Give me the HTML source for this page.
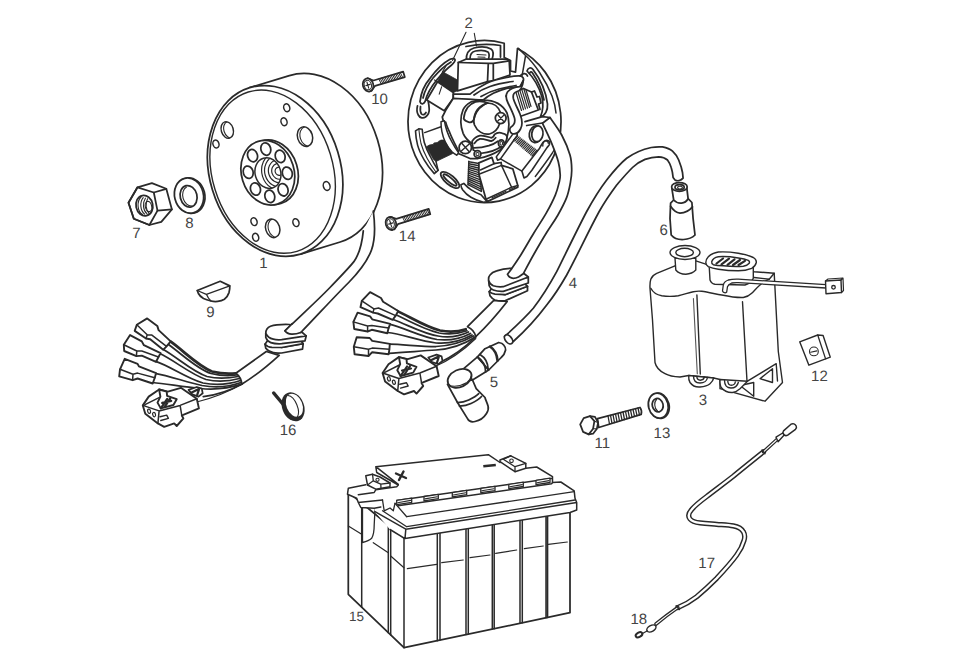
<!DOCTYPE html>
<html lang="en"><head><meta charset="utf-8"><title>Electrical parts diagram</title>
<style>
html,body{margin:0;padding:0;background:#fff;}
body{width:979px;height:669px;overflow:hidden;}
svg{display:block}
.l{fill:none;stroke:#2a2a2a;stroke-width:1.75;stroke-linecap:round;stroke-linejoin:round}
.w{fill:#fff;stroke:#2a2a2a;stroke-width:1.75;stroke-linecap:round;stroke-linejoin:round}
.t{fill:none;stroke:#2a2a2a;stroke-width:1.1;stroke-linecap:round;stroke-linejoin:round}
.c{stroke-width:1.4}
.k{fill:#2a2a2a;stroke:#2a2a2a;stroke-width:0.8;stroke-linejoin:round}
text{font-family:"Liberation Sans",sans-serif;font-size:15px;fill:#444;text-anchor:middle;text-rendering:geometricPrecision}
</style></head><body>
<svg width="979" height="669" viewBox="0 0 979 669">
<rect width="979" height="669" fill="#fff"/>
<!-- 10_flywheel.svg -->
<g transform="translate(275.1,170.9) rotate(-17)">
<defs><clipPath id="fh0"><ellipse cx="-33.8" cy="-53.1" rx="6.0" ry="8.5"/></clipPath><clipPath id="fh4"><ellipse cx="38.6" cy="-24.0" rx="7.5" ry="10.0"/></clipPath><clipPath id="fh8"><ellipse cx="-19.1" cy="54.2" rx="7.0" ry="9.5"/></clipPath><clipPath id="fbore"><ellipse cx="-7.5" cy="-0.0" rx="12.8" ry="15.5"/></clipPath></defs>
<path class="w" d="M0,-87 L41.5,-87 A65.5,87 0 0 1 41.5,87 L0,87 Z"/>
<ellipse class="w" cx="0" cy="0" rx="65.5" ry="87"/>
<ellipse class="l" cx="-2.6" cy="0" rx="60.3" ry="83.3" style="stroke-width:1.4"/>
<ellipse class="t" cx="-31.2" cy="-52.6" rx="6.0" ry="8.5" clip-path="url(#fh0)"/>
<ellipse class="l" style="stroke-width:1.5" cx="-33.8" cy="-53.1" rx="6.0" ry="8.5"/>
<ellipse class="l" style="stroke-width:1.5" cx="-48.7" cy="-43.0" rx="3.0" ry="4.0"/>
<ellipse class="l" style="stroke-width:1.5" cx="29.6" cy="-57.0" rx="3.0" ry="4.0"/>
<ellipse class="l" style="stroke-width:1.5" cx="22.9" cy="-44.4" rx="3.0" ry="4.0"/>
<ellipse class="t" cx="41.2" cy="-23.5" rx="7.5" ry="10.0" clip-path="url(#fh4)"/>
<ellipse class="l" style="stroke-width:1.5" cx="38.6" cy="-24.0" rx="7.5" ry="10.0"/>
<ellipse class="l" style="stroke-width:1.5" cx="44.9" cy="29.5" rx="3.3" ry="4.5"/>
<ellipse class="l" style="stroke-width:1.5" cx="-35.0" cy="42.4" rx="3.0" ry="4.0"/>
<ellipse class="l" style="stroke-width:1.5" cx="-38.0" cy="57.8" rx="3.0" ry="4.0"/>
<ellipse class="t" cx="-16.5" cy="54.7" rx="7.0" ry="9.5" clip-path="url(#fh8)"/>
<ellipse class="l" style="stroke-width:1.5" cx="-19.1" cy="54.2" rx="7.0" ry="9.5"/>
<ellipse class="l" style="stroke-width:1.5" cx="4.8" cy="55.6" rx="3.0" ry="4.0"/>
<ellipse class="w" cx="-3.9" cy="0.1" rx="26.3" ry="32.8"/>
<ellipse class="w" cx="-7.5" cy="-0.4" rx="26.3" ry="32.8"/>
<ellipse class="l" cx="11.0" cy="5.8" rx="4.9" ry="6.3"/>
<ellipse class="l" cx="2.1" cy="20.4" rx="4.9" ry="6.3"/>
<ellipse class="l" cx="-12.5" cy="22.8" rx="4.9" ry="6.3"/>
<ellipse class="l" cx="-24.1" cy="11.6" rx="4.9" ry="6.3"/>
<ellipse class="l" cx="-26.1" cy="-6.6" rx="4.9" ry="6.3"/>
<ellipse class="l" cx="-17.1" cy="-21.2" rx="4.9" ry="6.3"/>
<ellipse class="l" cx="-2.5" cy="-23.6" rx="4.9" ry="6.3"/>
<ellipse class="l" cx="9.1" cy="-12.4" rx="4.9" ry="6.3"/>
<g clip-path="url(#fbore)">
<ellipse class="t" style="stroke-width:1.2" cx="3.5" cy="1.5" rx="17.1" ry="19.2"/>
<ellipse class="t" style="stroke-width:1.2" cx="3.5" cy="1.5" rx="14.2" ry="15.9"/>
<ellipse class="t" style="stroke-width:1.2" cx="3.5" cy="1.5" rx="10.4" ry="11.6"/>
<ellipse class="t" style="stroke-width:1.2" cx="3.5" cy="1.5" rx="7.1" ry="8.0"/>
<ellipse class="t" style="stroke-width:1.2" cx="3.5" cy="1.5" rx="3.7" ry="4.1"/>
</g>
<ellipse class="l" style="stroke-width:1.5" cx="-7.5" cy="-0.0" rx="12.8" ry="15.5"/>
</g>
<!-- 20_screws.svg -->
<path class="w" d="M367.7,78.2 L373.5,80.5 L403.2,71.7 L404.8,77.1 L375.1,85.8 L371.4,90.9"/>
<path class="t" style="stroke-width:1" d="M378.8,78.9 L381.3,84.0 M380.3,78.5 L382.9,83.6 M381.9,78.0 L384.4,83.1 M383.4,77.6 L385.9,82.7 M384.9,77.1 L387.5,82.2 M386.5,76.7 L389.0,81.7 M388.0,76.2 L390.5,81.3 M389.5,75.8 L392.1,80.8 M391.1,75.3 L393.6,80.4 M392.6,74.8 L395.2,79.9 M394.1,74.4 L396.7,79.5 M395.7,73.9 L398.2,79.0 M397.2,73.5 L399.8,78.6 M398.7,73.0 L401.3,78.1 M400.3,72.6 L402.8,77.7 "/>
<ellipse class="w" cx="368.1" cy="85.0" rx="5.2" ry="6.6" transform="rotate(-16.5 368.1 85.0)"/>
<ellipse class="t" cx="367.8" cy="85.0" rx="3.6" ry="4.8" transform="rotate(-16.5 368.1 85.0)"/>
<path class="t" style="stroke-width:1.1" d="M366.9,82.0 L368.7,88.2 M365.9,85.6 L370.1,84.4"/>
<path class="w" d="M390.4,216.8 L396.3,218.9 L428.7,208.8 L430.3,214.2 L397.9,224.2 L394.3,229.4"/>
<path class="t" style="stroke-width:1" d="M402.4,217.0 L405.0,222.0 M403.9,216.5 L406.6,221.6 M405.5,216.0 L408.1,221.1 M407.0,215.6 L409.6,220.6 M408.5,215.1 L411.1,220.1 M410.1,214.6 L412.7,219.7 M411.6,214.1 L414.2,219.2 M413.1,213.7 L415.7,218.7 M414.6,213.2 L417.3,218.2 M416.2,212.7 L418.8,217.8 M417.7,212.2 L420.3,217.3 M419.2,211.8 L421.8,216.8 M420.8,211.3 L423.4,216.3 M422.3,210.8 L424.9,215.9 M423.8,210.3 L426.4,215.4 M425.3,209.9 L428.0,214.9 M426.9,209.4 L429.5,214.4 "/>
<ellipse class="w" cx="390.9" cy="223.5" rx="5.2" ry="6.6" transform="rotate(-17.3 390.9 223.5)"/>
<ellipse class="t" cx="390.6" cy="223.5" rx="3.6" ry="4.8" transform="rotate(-17.3 390.9 223.5)"/>
<path class="t" style="stroke-width:1.1" d="M389.7,220.5 L391.6,226.6 M388.7,224.1 L392.9,222.9"/>
<text x="379.6" y="104.0">10</text>
<text x="407.2" y="240.6">14</text>
<!-- 21_nut.svg -->
<path class="w" d="M128.5,202.8 L137.5,187.3 L151.9,183.1 L166.3,188.8 L171.9,209.4 L161.3,221.9 L149.4,225.0 L133.8,218.8 Z"/>
<path class="l" d="M128.5,202.8 L137.5,187.3 L153.8,192.5 L157.5,210.6 L149.4,225.0 L133.8,218.8 Z"/>
<path class="l" d="M153.8,192.5 L166.3,188.8 M157.5,210.6 L171.9,209.4"/>
<ellipse class="l" cx="144.4" cy="205.6" rx="8.4" ry="10.3" transform="rotate(-12 144.4 205.6)"/>
<path class="t" d="M141.0,197.0 A7.0,10.0 0 0 0 142.5,214.5"/>
<path class="t" d="M143.2,197.6 A7.0,10.0 0 0 0 144.7,214.1"/>
<path class="t" d="M145.4,198.2 A7.0,10.0 0 0 0 146.9,213.7"/>
<path class="t" d="M147.6,198.8 A7.0,10.0 0 0 0 149.1,213.3"/>
<ellipse class="t" cx="148.5" cy="206.5" rx="3.2" ry="5.2" transform="rotate(-12 148.5 206.5)"/>
<text x="136.3" y="237.5">7</text>
<ellipse class="w" cx="190.2" cy="195.6" rx="14.6" ry="17.8" transform="rotate(-14 190.2 195.6)"/>
<ellipse class="w" cx="189" cy="195.6" rx="14.4" ry="17.8" transform="rotate(-14 189 195.6)"/>
<ellipse class="l" cx="188.6" cy="196.3" rx="8.4" ry="10.9" transform="rotate(-14 188.6 196.3)"/>
<path class="t" d="M186.5,187 A7.5,10 -14 0 0 192,206"/>
<text x="189.4" y="227.5">8</text>
<!-- 30_harness1.svg -->
<!-- grommet -->
<path class="w" d="M265,344.2 L265.8,348.3 C268,351 270.5,352.2 273.3,352.7 C276,353.3 279,353.2 281.7,353 L302.5,349.2 L303.2,343.6 L281.7,347.5 Z"/>
<path class="w" d="M265,344.2 C267,346.5 269.5,347.3 272,347.4 L281.7,347.5 L303.2,343.6 L300,340 L268,340 Z"/>
<path class="w" d="M265.8,333.3 L265.8,337.5 C267,340.5 268.5,341.8 270.8,342.6 C274,343.7 278,343.9 281.7,343.7 L305,340.8 L306.2,335.8 Z"/>
<path class="w" d="M265.8,333.3 C265.8,329.5 267.5,327.5 270.5,326.3 C275,324.7 282,324.3 289.2,324.5 C295,324.7 298.5,327.5 301.7,332 L306.2,335.8 L281.7,339.7 C278,340 275.5,339.8 273.3,339.2 C269.5,338.2 267,336 265.8,333.3 Z"/>
<!-- cable from flywheel to grommet -->
<path class="w" style="stroke:none" d="M373.3,211 C375.3,226 375,240 371.5,250 C367,262 358,273 348.7,282.5 C333,298 316,317 300.8,332.5 L291.7,334.2 L285,330.8 C298,318 316,302 330,287.5 C339,278 348,269 353.7,261.9 C358,256 362,244 363.3,230.8 Z"/>
<path class="l" d="M373.3,211 C375.3,226 375,240 371.5,250 C367,262 358,273 348.7,282.5 C333,298 316,317 300.8,332.5 M285,330.8 C298,318 316,302 330,287.5 C339,278 348,269 353.7,261.9 C358,256 362,244 363.3,230.8"/>
<path class="w" d="M291.7,324.2 L300.8,332.5 C298,333.6 294.5,334.3 291.7,334.2 C288.5,334 286,332.5 285,330.8 Z" style="stroke:none"/>
<path class="l" d="M292.2,323.7 L285,330.8 C286,332.5 288.5,334 291.7,334.2 C294.5,334.3 298,333.6 300.8,332.5"/>
<!-- sheath after grommet -->
<path class="w" d="M266.3,351.5 L235.8,373.3 C239.5,376 241.5,380 241.7,384.2 C256,375.5 268,365.5 279.2,355.3 Z"/>
<!-- wires -->
<g class="l">
<path style="stroke-width:2.8" d="M170.8,341.7 C185,352 198,366 212,371.5 C222,374 230,374 235.8,373.3"/>
<path d="M168.5,344.5 C183,355 197,369 211,373.5 C221,376 230,376 236.5,375"/>
<path d="M164.2,350 C178,358 193,372 207,376.5 C218,379 230,378 238,376.5"/>
<path d="M159.2,353.3 C174,360 190,374 206,379.5 C217,382 230,381 239.5,378.5"/>
<path d="M155.8,361.3 C170,366 186,378 203,383 C216,385.5 230,384 240.5,380.5"/>
<path d="M155,373.3 C170,376 186,382 202,385.5 C216,388 230,386.5 241,382.5"/>
<path d="M152.5,382.5 C167,384 184,387 200,388.5 C215,390 230,388 241.7,384.2"/>
<path d="M203.3,396.7 C216,395 230,390.5 241.7,384.2"/>
<path d="M198.5,401.5 C212,398 228,392 241.7,384.2" class="t"/>
</g>
<!-- spade connectors -->
<path class="w" style="stroke-width:1.9" d="M134.7,330.9 L136.8,324.7 L147.2,318.4 L157.3,325.9 L158.6,330.1 L170.7,341.4 L166.5,346.4 L163.2,349.8 L150.2,339.3 L146.0,338.5 Z"/>
<path class="l" style="stroke-width:1.5" d="M136.8,324.7 L147.2,334.7 L151.9,335.1 L166.5,346.4 M147.2,334.7 L146.0,338.5"/>
<path class="w" style="stroke-width:1.9" d="M124.2,351.0 L123.8,344.8 L130.1,335.1 L141.8,341.4 L143.9,345.2 L160.6,353.1 L158.5,357.0 L156.0,361.9 L141.8,355.6 L136.4,356.1 Z"/>
<path class="l" style="stroke-width:1.5" d="M123.8,344.8 L136.8,351.0 L141.8,351.0 L158.5,357.0 M136.8,351.0 L136.4,356.1"/>
<path class="w" style="stroke-width:1.9" d="M119.2,376.4 L120.0,369.3 L124.7,358.8 L137.6,363.8 L138.9,366.4 L156.1,373.1 L154.8,377.7 L152.7,383.5 L137.6,378.5 L132.6,380.2 Z"/>
<path class="l" style="stroke-width:1.5" d="M120.0,369.3 L133.0,374.3 L137.6,373.1 L154.8,377.7 M133.0,374.3 L132.6,380.2"/>
<!-- plug -->
<g transform="translate(-239.8,32.4)">
<g>
<path class="w" d="M428.3,357.5 L436.6,354.6 L441.6,356.3 L442.5,360.9 L438.3,364.2 L432,362 Z"/>
<path class="l" style="stroke-width:2.2" d="M431.5,360 L438.5,356.5 M437,362.5 L438.8,357"/>
<path class="w" style="stroke-width:1.9" d="M382.6,373 L388.5,364.2 L398.9,357.1 L407.7,359.2 L420.7,355.4 L436.6,366.3 L438.7,376 L423.6,382.2 L421.6,383.1 L423.2,386 L416.5,393.6 L414,391 L404,394.4 L397.7,391 L385.1,381.4 Z"/>
<path class="l" style="stroke-width:1.5" d="M382.6,373 L398.9,378.5 L397.7,391 M398.9,378.5 L419.9,373 L436.6,366.3 M419.9,373 L421.6,383.1 M384.8,372.3 L399.4,365"/>
<path class="w" style="stroke-width:1.9" d="M398.9,357.1 L406.5,359.2 L406.9,363.4 L416.5,366.8 L413.2,372.6 L400.6,376 L397.3,370.2 L400.2,364.2 Z"/>
<path class="l" style="stroke-width:2.2" d="M400.6,376 L407,366.5 M402,370.5 L411,368.5 M404.5,374.5 L410,366"/>
<path class="l" style="stroke-width:1.4" d="M399.8,384.3 L406.5,382.7 L408.2,386 L400.6,388.1"/>
<ellipse class="l" cx="388.9" cy="378.9" rx="1.4" ry="2.2" style="stroke-width:1.2" transform="rotate(-15 388.9 378.9)"/>
<ellipse class="l" cx="393.9" cy="382.2" rx="1.4" ry="2.2" style="stroke-width:1.2" transform="rotate(-15 393.9 382.2)"/>
</g>
</g>
<!-- key 9 -->
<path class="w" d="M197.2,290.5 L220.2,281.3 L229.8,285.9 C229.9,288.5 229.6,290.5 229,292.6 C228,295.5 226.5,297.8 224.4,299.3 C222.5,300.5 220,301.2 217.7,301.4 C215.5,301.6 213,301.5 211,301 C208,300.3 205.5,299.5 203.5,298.5 C201,297 199.3,295.3 198.4,293.5 Z"/>
<path class="l" style="stroke-width:1.3" d="M197.2,290.5 L206.4,294.3 L229.8,285.9 M206.4,294.3 C207.5,297 209,299.3 211,301"/>
<text x="210.3" y="316.9">9</text>
<text x="263.3" y="267.6">1</text>
<!-- 40_stator.svg -->
<g>
<!-- base plate -->
<path class="w" d="M504.2,43.23 A76.5,81 0 1 0 517.5,48.42 L515.5,72.2 L510.5,71 L510.5,60.5 L504.2,57.5 Z"/>
<path class="l" d="M466,46.5 Q484,43 500.5,45.5 L500.5,57"/>
<!-- right segment inner edge -->
<path class="l" style="stroke-width:1.5" d="M518.4,48.4 L525.6,55.5 L522.2,75.2 M525.6,55.5 C534.4,63.5 545.3,79.4 552,96 C554,101.5 555.5,107 556,113"/>
<!-- right slot -->
<path class="l" d="M527,71 C528,67.5 531,67 533,69.5 C541,80 546,92 547.5,104 C548,110 545,116 540.5,116.5 C543.5,110 543.5,104 542,97 C539,87 534,78 527,71 Z"/>
<path class="l" d="M529.5,73.5 C530,71.5 531.5,71.5 532.5,73 C538,81 542,90 544,100"/>
<!-- left long slot -->
<path class="l" d="M420,101.7 C421,92 425,84 430,78.3 C436,70 443,63 450,59.2 C453,58 455.5,58.5 455,60.5 C454.5,62.5 453,63.5 451.7,65 C445,70 441,75 436.7,80 C431,87 427,94 425,101.7 C424,104 421,105 420,101.7 Z"/>
<path class="l" d="M423,98 C425,89 429,83 433,78 C439,71 445,65.5 451,62"/>
<!-- small left loop slot -->
<path class="l" d="M417.5,105.8 C416.5,110 417,113 418.3,115 C420,118.5 423.5,118.5 425.5,117 C428,115 429.5,112 429.2,109 C429,106 428.7,103.5 428.3,101.7"/>
<path class="l" d="M420.5,106.5 C420,110 420.5,112.5 421.5,114 C423,115.5 425,114.5 426,112.5"/>
<!-- top oval slot -->
<path class="l" d="M466.5,60 C466,54 469,49.5 474,48 C480,46.5 487,46.8 491,49 C494,51 493.5,55 492,59.5"/>
<path class="l" d="M470,58.5 C470,54.5 472,51.8 475.5,51 C480,50 485,50.2 488,52 C489.5,53.5 489.3,56 488.7,58.5"/>
<path class="l" d="M477,54.5 L486,55 M478,57 L485,57.3" style="stroke-width:1.1"/>
<!-- top coil block -->
<path class="w" d="M458.3,62.5 L465.8,59.2 L506.7,59.2 L509.2,60.8 L510,75 L493.3,80.5 L487.5,81.7 L457.5,90.8 Z"/>
<path class="l" d="M458.3,62.5 L488.3,63.3 L493.3,63.3 L509.2,60.8 M488.3,63.3 L487.5,81.7 M493.3,63.3 L493.3,80.5"/>
<!-- dark block -->
<path class="k" d="M442.5,71.7 L457.5,80 L457.5,90.8 L453.3,92.5 L437.5,81.7 Z"/>
<path class="l" d="M442.5,71.7 L446,66 M437.5,81.7 L434.5,80" style="stroke-width:1.2"/>
<!-- left coil block -->
<path class="w" d="M437.5,81.7 L453.3,92.5 L453.3,98.3 L444.2,110.8 L426.7,100 Z"/>
<path class="t" d="M441.7,86.7 L439.2,94.2"/>
<!-- centre arm -->
<path class="w" d="M453.3,94.2 L470,94.2 C476,89 481,86 486.7,83.3 C493,80.5 500,78.8 506.7,77.5 C511,76.5 516,75.5 520,75.8 C523,76.5 524,78.5 523.3,80.5 C522.5,83.5 521.5,85.5 520,86.7 C515.5,87.5 511,87.8 506.7,88.3 C502,89.5 497.5,91.3 493.3,93.3 C489.5,95.3 486,97.5 483.3,100 L453.3,99.2 Z"/>
<path class="l" d="M474,95 C479,91 484,88.5 490,86.5 C497,84 505,82.5 513,81.5 M481,96.5 C487,93 493,90.5 499,89 C505,87.5 510,86.5 516,85.5"/>
<!-- hub -->
<path class="w" d="M445.7,110.3 L453.3,98.3 L483.3,100 C495,100 503,105 507,113 C510,121 509,130 506.9,137.8 C506,142 504.5,146 500,150 C494,154 486,157 478,158.5 L470,158.5 L462,155 L455.2,152.4 C452,146 449.5,139.5 447.4,133.3 C445.5,128 443.5,122.5 442.3,117 Z"/>
<path class="l" d="M445.7,122.1 C446.5,125.5 448,128.8 449.6,132.2 C452,138.5 455.5,145 458.6,151.3"/>
<!-- hub ring -->
<path class="l" d="M482.2,100.2 C478,100.2 474.5,100.8 471,101.9 C467,104 464.5,106.5 463.1,109.7 C461.5,113.5 460.7,117.5 460.8,122.1 C460.9,126 461.8,129.8 463.1,133.3 C465,137.5 468,140.8 472.1,143.4"/>
<!-- crescent -->
<path class="w" d="M463.7,118.7 C464,114.5 465.5,110.5 467.6,107.5 C469.8,104.8 472.3,103 475.4,101.9 C478.3,101.2 481.5,101.3 484.4,101.9 L487.8,103 C486,103.5 484.6,104.2 483.3,105.2 C480.3,107 478.2,109.3 476.6,112 C475.2,114.5 474.3,117 473.8,119.8 C472.5,122 470.5,122.8 468.7,122.1 C466.5,121.7 464.5,120.5 463.7,118.7 Z"/>
<!-- bore -->
<path class="l" d="M473.8,119.8 C474.5,112 479,105.5 487.8,103 C494,103.2 498.5,107 500.5,112.5 M499.5,124 C498,129 494.5,132.5 489.5,134 C483,135 477,131 474.5,125 C473.8,123 473.7,121.5 473.8,119.8"/>
<!-- lower clamp -->
<path class="w" d="M472.1,141.2 C474,138.5 477,136.3 479.9,135.6 C484,135 488,136.8 491.2,137.8 C493,137.5 494,136 494.6,134.4 C497,132.5 500,132.3 502.4,133.3 C505.5,134 507.3,135.8 506.9,137.8 C506.5,141 504.8,143.8 502.4,145.7 C497,150 489,152.5 480,153.5 L473.2,150 Z"/>
<path class="l" d="M474.3,143.4 C476,141 477.8,139.6 479.9,138.9 C484,138.7 487.5,140.5 491.2,141.2 C493,140.6 494.5,139.3 495.7,137.8 M473.2,147.9 C478.5,148 484,147.2 488.9,145.7 C492.5,144.5 495.5,143 497.9,141.2"/>
<!-- screws -->
<circle class="w" cx="500.7" cy="118.1" r="5.4"/>
<path class="l" style="stroke-width:1.3" d="M498,115 L503.5,121.2 M503.8,115.3 L497.8,121"/>
<circle class="w" cx="465.3" cy="147.4" r="6.2"/>
<path class="l" style="stroke-width:1.4" d="M462,143.5 L468.8,151.2 M469.2,144 L461.6,150.8"/>
<circle class="w" cx="477.5" cy="154.1" r="3.4"/><circle class="t" cx="477.5" cy="154.1" r="1.6"/>
<ellipse class="w" cx="501.3" cy="143.4" rx="2.9" ry="3.6"/><ellipse class="t" cx="501.3" cy="143.4" rx="1.3" ry="1.9"/>
<!-- lower-left coil -->
<path class="w" style="stroke-width:1.6" d="M415.5,130.9 L418.8,128.8 L422.2,129.2 C422.6,134 423.3,138.5 424.3,142.6 C425.8,147.5 427.8,152 430.1,156 C432.5,161 435.2,165.8 438.1,170.3 L434.3,173.6 C430.5,169.5 427,165 424.3,160.2 C421.5,155.3 419,150.3 417.6,145.1 C416.4,140.5 415.7,135.8 415.5,130.9 Z"/>
<path class="l" style="stroke-width:1.1" d="M418.8,128.8 C419.3,134 420,139 421,143.5 C422.5,149 424.8,154 427.2,158.5 C429.8,163.3 432.8,167.8 435.9,172"/>
<path class="l" style="stroke-width:1.5" d="M424.7,132.6 L441,126.7 M436,161.5 L438.1,170.3"/>
<path class="w" style="stroke-width:1.5" d="M441,121.7 L444.4,120.8 C445,124.5 445.8,127.8 446.9,130.9 C448.2,134.8 450,138.5 451.9,141.8 C454,145.8 456.2,149.5 458.6,152.7 L456.9,155.2 C455,154.3 453.4,153.2 451.9,151.8 C449.2,148.8 447,145.5 445.2,141.8 C443.7,138.7 442.6,135.3 441.9,131.7 C441.3,128.5 441,125.2 441,121.7 Z"/>
<path class="k" d="M426.4,146.8 L429.3,145.1 L433.5,144.3 L433.9,143 L437.2,142.6 L438.5,141.4 L441,140.1 L444.4,140.1 L445.2,141.8 C447,145.5 449.2,148.8 451.9,151.8 L452.7,153.5 L436,161.5 L433.5,159.4 Z"/>
<!-- bottom-left slot -->
<ellipse class="l" cx="450" cy="180" rx="11.5" ry="4.6" transform="rotate(40 450 180)"/>
<ellipse class="l" cx="450" cy="180" rx="8.5" ry="2.2" transform="rotate(40 450 180)"/>
<!-- bottom flange + winding -->
<path class="t" style="stroke-width:1.4" d="M468.8,161.8 L478.9,163.5 M468.7,163.7 L479.1,165.8 M468.7,165.6 L479.3,168.2 M468.6,167.5 L479.5,170.5 M468.5,169.4 L479.7,172.8 M468.5,171.3 L479.9,175.1 M468.4,173.2 L480.1,177.4 M468.3,175.2 L480.4,179.8 M468.3,177.1 L480.6,182.1 M468.2,179.0 L480.8,184.4 M468.1,180.9 L481.0,186.8 M468.1,182.8 L481.2,189.1 M468.0,184.7 L481.4,191.4 "/>
<path class="l" style="stroke-width:1.4" d="M468.8,161.2 L468,184.7 M478.9,162.9 L481.4,191.4"/>
<path class="w" style="stroke-width:1.6" d="M460.9,184.7 L463.8,183.4 C466,185.8 468.3,187.9 470.9,189.7 C474,191.8 477.5,193.4 481,194.7 L486.9,201.4 L483.5,202.3 C479,201.2 474.8,199.5 470.9,197.2 C467.5,195.2 464.8,192.7 462.6,189.7 C461.6,188.2 461,186.5 460.9,184.7 Z"/>
<!-- bottom coil block -->
<path class="w" d="M478.9,162.9 L491.9,157.4 L494,163.7 L501.1,162.5 L501.5,165.4 L512.8,168.8 L517.8,185.5 L517.8,187.2 L487.7,201.4 L486,199.3 L478.9,174.2 Z"/>
<path class="l" style="stroke-width:1.5" d="M478.9,174.2 L501.5,165.4 L511.6,187.2 L486,199.3 M511.6,187.2 L517.8,185.5 M480.4,170 L494,163.7"/>
<path class="t" d="M492,197.8 L506,191.3 M509.5,189.8 L515.5,187"/>
<!-- lower-right coil -->
<path class="w" style="stroke-width:1.6" d="M496.3,156.9 L513.9,132.6 L517.2,133.8 L517.2,135.5 L500.5,158.9 L497.6,160.2 Z"/>
<path class="l" style="stroke-width:1.5" d="M500.5,158.9 L521.9,171.1"/>
<path class="t" style="stroke-width:1.15" d="M513.5,140.1 L517.7,135.9 M514.8,141.2 L519.1,136.9 M516.1,142.4 L520.4,137.9 M517.4,143.5 L521.8,139.0 M518.8,144.6 L523.2,140.0 M520.1,145.8 L524.6,141.0 M521.4,146.9 L525.9,142.0 M522.7,148.1 L527.3,143.1 M524.0,149.2 L528.7,144.1 M525.3,150.3 L530.0,145.1 M526.6,151.5 L531.4,146.1 M528.0,152.6 L532.8,147.1 M529.3,153.7 L534.2,148.2 M530.6,154.9 L535.5,149.2 M531.9,156.0 L536.9,150.2 "/>
<path class="w" style="stroke-width:1.6" d="M521.9,171.1 L539.4,148.5 C541,145.5 542.3,143 543.6,141.8 C545.3,140.3 547.3,140.1 548.7,140.9 C549.8,141.8 549.9,143 549.5,144.3 C548.9,145.5 548,146.5 547,147.6 L531.9,170.3 L526.9,176.5 L524,178 Z"/>
<path class="l" style="stroke-width:1.4" d="M542.8,146 C542.6,143.5 543.6,141.5 545.3,140.9 C547,140.6 548.3,141.6 548.3,143.3 M535.3,176.5 C541,169 547,161 552,153.5 C553,152 553.9,150.6 554.5,149.3"/>
<!-- right tab ring -->
<ellipse class="w" cx="535.6" cy="134.3" rx="6.3" ry="8.4" transform="rotate(8 535.6 134.3)"/>
<ellipse class="w" cx="537.4" cy="133.8" rx="5.6" ry="7.9" transform="rotate(8 537.4 133.8)"/>
<!-- upper right coil -->
<path class="w" d="M506,96 L523.5,88.5 L531.5,92 L538.3,110 L520,116.5 L510,102 Z"/>
<path class="t" d="M516,92.5 L521.5,110.5 M518,91.7 L523.5,109.7 M520,90.9 L525.5,108.9 M522,90.1 L527.5,108.1 M524,89.5 L529.5,107.5 M526,90 L531,106.5" style="stroke-width:1.2"/>
<path class="l" d="M531.5,92 L534.5,91 L537,97 L539.5,96.5 L541,103 L538.5,104 L540,109.5"/>
<!-- S-arm from centre arm down to right ring -->
<path class="w" d="M520,86.7 C515,87 510,89 507.5,92 C505.5,95 506,99 508,103 C510.5,108 513,113 514.5,118 C515.5,122 514,125 511,127 C509,129 509.5,132 512,133.5 C516,134.5 519,132 520.5,129 C523,124.5 522,119 520,114 C518,109 515,104 513.5,99 C512.5,95 514,92.5 517,91.5 C520,90.8 522.5,89 523.3,80.5 Z"/>
<path class="l" d="M520,75.8 C523,72.5 526.5,73 527.5,76"/>
<path class="l" d="M525,121.7 L542.5,116.7 L550,117.5 M526.7,125.5 L542.5,123"/>
</g>
<text x="468.7" y="27.7">2</text>
<path class="t" d="M466,32.3 L452.5,60.5 M474.3,33.3 L476.5,46"/>
<!-- 45_harness2.svg -->
<!-- HT lead 4 -->
<path class="w" d="M504.5,336.7 C515,327 525,318 533.3,308.3 C542,297 550,284 556.7,271.7 C566,253 576,232 586.7,211.5 C593,200 599,190 606.7,180 C613,172 619,164.5 626.7,158.3 C634,153 642,149.5 651.2,147.5 C655,146.8 659,146.6 662.5,146.9 C667,147.8 670,149 672.5,151.2 C675.5,154 677.5,157 678.7,160 C680.5,164.5 681.8,168.5 682.5,172.5 L683.1,178.1 C681,180.5 677.5,181.5 675,180 L673.1,177.5 C672.8,174 672.2,170.5 671.2,167.5 C670.3,164.5 669,162 667.5,160 C665,157.8 662,157 658.7,156.9 C654,157 649,158 645,159.4 C640,161.5 636,164 632.5,167.5 C626,174 621,180 616.7,185 C610,194 604,203 599.2,211.5 C588,232 578,254 566.7,275 C561,285 554,296 546.7,305 C537,318 525,331 513.3,341.5 Z"/>
<ellipse class="w" cx="508.6" cy="339.4" rx="3.2" ry="5.2" transform="rotate(-40 508.6 339.4)"/>
<!-- sheath below grommet 2 -->
<path class="w" d="M493.8,300.3 L467.5,326.7 C471.5,328.5 474.8,332 475.8,336.7 C487,326 497.5,314 507.2,301.5 Z"/>
<!-- grommet 2 -->
<path class="w" d="M489.2,291.7 L490,295.8 C491.5,298 493,299.3 495,300 C498,300.9 501.5,301 505,300.8 L527.5,290.8 L527.5,286.3 L505,294.7 Z"/>
<path class="w" d="M489.2,291.7 C491,293.3 493,294 495,294.2 L505,294.7 L527.5,286.3 L524,283 L492,288 Z"/>
<path class="w" d="M488.7,280.8 L489.2,285.8 C490,288 491.5,289.3 493.3,290 C496.5,291.2 500,291.5 503.3,291.3 L528.3,283 L528.3,277.5 Z"/>
<path class="w" d="M488.7,280.8 C488.3,278 488.8,276.3 490,275 C491.5,273 494,271.6 496.7,270.8 C501.5,269.2 506.5,268.3 511.7,268.3 C516,268.6 520,270.5 523.3,273 L528.3,277 L503.3,286.7 C499.5,287 496,286.8 493.3,285.8 C491,284.7 489.3,283 488.7,280.8 Z"/>
<!-- stator cable -->
<path class="w" d="M542.5,123.3 C544.0,126.6 549.1,136.9 551.7,143.3 C554.3,149.7 556.9,156.4 558.3,161.7 C559.7,167.0 560.1,171.5 560.2,175.0 C560.3,178.5 559.9,179.2 559.1,182.6 C558.3,185.9 557.4,190.1 555.3,195.1 C553.2,200.1 550.0,206.4 546.5,212.7 C543.0,219.0 538.2,225.9 534.0,232.8 C529.8,239.7 525.1,248.0 521.4,254.0 C517.7,260.0 513.3,266.2 511.7,268.7 L507.5,274.2 L507.5,274.2 C507.8,274.7 508.5,276.3 509.5,277.0 C510.5,277.7 511.8,278.3 513.3,278.3 C514.8,278.3 516.8,277.8 518.5,277.0 C520.2,276.2 522.5,274.2 523.3,273.7 L523.3,273.7 C525.1,270.4 530.1,260.8 534.0,254.0 C537.9,247.2 542.5,239.3 546.5,232.8 C550.5,226.3 554.4,221.1 557.8,215.2 C561.1,209.3 564.5,203.0 566.6,197.6 C568.7,192.2 569.5,187.2 570.4,182.6 C571.2,178.0 571.8,174.6 571.7,170.0 C571.6,165.4 571.7,160.8 570.0,155.0 C568.3,149.2 565.0,141.2 561.7,135.0 C558.4,128.8 552.0,120.4 550.0,117.5 Z"/>
<!-- wires -->
<g class="l">
<path style="stroke-width:2.6" d="M397,310.8 C412,318 426,327 440,330.5 C450,332.5 459,331.5 465.8,329.2"/>
<path d="M395.5,314.5 C410,321.5 425,330 439,333 C450,335 459.5,333.5 467,330.8"/>
<path d="M393.7,319.7 C408,325 423,333.5 438,336 C449,338 460,336 468.5,332"/>
<path d="M389.2,324.2 C404,327.5 420,336.5 437,339.5 C449,341 461,338.5 470.5,333.5"/>
<path d="M387.5,332.5 C402,334 419,341 436,343 C448,344 461,341 472,335"/>
<path d="M389.2,344.2 C404,344.5 420,346.5 436,346.5 C449,346 462,342.5 473.5,336"/>
<path d="M388.3,353.3 C403,352.5 420,351 436,350 C450,349 463,345 475.8,336.7"/>
<path d="M438.3,363.3 C452,357 465,348 475.8,336.7"/>
<path class="t" d="M434,367 C449,360.5 463,351 475.8,338.5"/>
</g>
<!-- spade connectors -->
<path class="w" style="stroke-width:1.9" d="M360.5,307.2 L361.8,300.9 L370.1,292.1 L381.0,298.0 L383.1,301.8 L398.2,311.0 L395.7,315.6 L392.7,319.8 L377.7,313.5 L373.1,312.6 Z"/>
<path class="l" style="stroke-width:1.5" d="M361.8,300.9 L373.9,308.9 L378.5,308.0 L395.7,315.6 M373.9,308.9 L373.1,312.6"/>
<path class="w" style="stroke-width:1.9" d="M354.2,329.0 L353.4,321.9 L357.6,312.6 L370.1,316.4 L372.2,319.3 L390.2,323.9 L388.6,328.1 L387.3,333.2 L371.8,329.8 L367.6,331.5 Z"/>
<path class="l" style="stroke-width:1.5" d="M353.4,321.9 L367.6,326.0 L371.8,325.6 L388.6,328.1 M367.6,326.0 L367.6,331.5"/>
<path class="w" style="stroke-width:1.9" d="M354.6,354.3 L353.8,346.8 L356.7,337.2 L369.7,338.0 L372.2,340.9 L389.8,343.9 L389.4,349.3 L388.6,354.3 L372.2,352.2 L368.5,356.0 Z"/>
<path class="l" style="stroke-width:1.5" d="M353.8,346.8 L368.5,349.3 L372.2,348.1 L389.4,349.3 M368.5,349.3 L368.5,356.0"/>
<!-- plug 2 -->
<g>
<path class="w" d="M428.3,357.5 L436.6,354.6 L441.6,356.3 L442.5,360.9 L438.3,364.2 L432,362 Z"/>
<path class="l" style="stroke-width:2.2" d="M431.5,360 L438.5,356.5 M437,362.5 L438.8,357"/>
<path class="w" style="stroke-width:1.9" d="M382.6,373 L388.5,364.2 L398.9,357.1 L407.7,359.2 L420.7,355.4 L436.6,366.3 L438.7,376 L423.6,382.2 L421.6,383.1 L423.2,386 L416.5,393.6 L414,391 L404,394.4 L397.7,391 L385.1,381.4 Z"/>
<path class="l" style="stroke-width:1.5" d="M382.6,373 L398.9,378.5 L397.7,391 M398.9,378.5 L419.9,373 L436.6,366.3 M419.9,373 L421.6,383.1 M384.8,372.3 L399.4,365"/>
<path class="w" style="stroke-width:1.9" d="M398.9,357.1 L406.5,359.2 L406.9,363.4 L416.5,366.8 L413.2,372.6 L400.6,376 L397.3,370.2 L400.2,364.2 Z"/>
<path class="l" style="stroke-width:2.2" d="M400.6,376 L407,366.5 M402,370.5 L411,368.5 M404.5,374.5 L410,366"/>
<path class="l" style="stroke-width:1.4" d="M399.8,384.3 L406.5,382.7 L408.2,386 L400.6,388.1"/>
<ellipse class="l" cx="388.9" cy="378.9" rx="1.4" ry="2.2" style="stroke-width:1.2" transform="rotate(-15 388.9 378.9)"/>
<ellipse class="l" cx="393.9" cy="382.2" rx="1.4" ry="2.2" style="stroke-width:1.2" transform="rotate(-15 393.9 382.2)"/>
</g>
<!-- plug cap 5 -->
<path class="w" d="M477.5,356.9 L463.7,368.7 L472.5,380 L488.7,370 Z"/>
<path class="w" d="M477.5,356.9 L485,348.7 L498.7,342.5 C501,342.8 502.8,343.6 503.7,345 C505,346.5 505.8,348.2 505.6,350 C505,353 503.5,355.5 501.2,357.5 L488.7,370 Z"/>
<path class="l" d="M490,346.5 C494.5,349.5 497,354 497.5,360.5" style="stroke-width:2.6"/>
<path class="l" d="M480,354.5 C485,357.5 488,362.5 488.2,369.5 M477.5,356.9 C482.5,360 485.5,365 485.6,372"/>
<path class="w" d="M447.5,384.4 L457.5,402.5 L467.5,418.6 C469,421.5 472,422.3 475,421.5 C480,420.5 484,417.5 486.5,413.5 C488.3,410.5 488.6,408 488.1,406.2 C487,402.5 485.5,399.8 485,397.5 L476.2,388.7 L472.5,380 Z"/>
<path class="l" d="M457.5,402.5 C462,402.5 465.5,401.5 468.7,400 C473,398 476.5,396 478.7,393.7 M459.5,406 C464,406 468,405 471,403.5 C475.5,401.5 479,399.3 481.5,396.5"/>
<ellipse class="w" cx="459.6" cy="378.3" rx="12.6" ry="8.6" transform="rotate(-25 459.6 378.3)"/>
<path class="t" d="M449,385.5 C455,387 462,385.5 467,382.5 C469.5,380.5 471,378 471.3,375.5"/>
<text x="494" y="386.5">5</text>
<text x="573" y="288.3">4</text>
<!-- 50_cap6.svg -->
<path class="w" d="M670.6,203.1 L670,218.6 L671.2,235 C674,238.5 679,239.8 683.7,239.5 C688.5,239.2 692.5,237.5 695,235 L693.1,218.6 L691.9,202.5 L688.1,198.7 L673.7,200 Z"/>
<path class="l" d="M670.6,206.2 C673.5,210.5 677,212.8 680,213.1 C685,213 689.5,210.5 692.5,206.9"/>
<path class="w" d="M671.9,188.7 L673.7,200 C676,202.5 679,203.3 681.5,203.1 C684.5,202.8 686.8,201 688.1,198.7 L686.9,188.7 Z"/>
<ellipse class="w" cx="679.4" cy="186.9" rx="7.8" ry="4.4"/>
<ellipse class="l" cx="679.6" cy="187.3" rx="4.6" ry="2.6"/>
<ellipse class="t" cx="680" cy="187.6" rx="2.4" ry="1.4"/>
<text x="663.7" y="234.5">6</text>
<!-- 60_cdi.svg -->
<!-- CDI body -->
<path class="w c" d="M650,288.3 C649.8,284 650,281.5 650.8,279.2 C652,276 654,274.5 656.7,273.3 L675,265.8 L695.8,260.8 L705.8,264.2 L754.2,271.7 L774.2,273.3 L778.3,351.5 L782.5,382.5 L765,401.2 L720,388.7 L720,379.5 L713.7,378 L688.7,375.5 L680,377 C674,376.8 669,376 665,373.7 C659.5,371 656,367 655,362.5 L652.5,320 Z"/>
<!-- base block ribs -->
<path class="l c" d="M747.5,381.2 L776.2,363.7 L777.5,381 M740,385.5 L753.7,382.5 L753.7,396.2 Z M760,378.7 L772.5,368.7 L772.5,382.5 Z"/>
<!-- lugs -->
<path class="w c" d="M688.7,375.5 C688.5,379 689,381 690,382.5 C692.5,386 696,387.3 700,387 C704.5,386.7 708,385.5 710,383.7 C712,382 713.2,380 713.7,378 Z"/>
<path class="w c" d="M720,379.5 C719.8,383.5 720.2,385.8 721.2,387.5 C724,391 728,392.7 732.5,392.5 C735.5,392.2 738,390.5 740,388.7 L747.5,381.2 Z"/>
<path class="l c" d="M693.5,376 C693.5,380.5 696,383 700,383 C704,383 707,380.5 707.5,377.5 M696.8,376.5 C697,379 698.3,380.2 700.3,380.2 C702.5,380.2 704,379 704.3,377.2"/>
<path class="l c" d="M724.5,380.5 C724.5,385 727,388 731,388 C735,388 737.5,385.5 738.3,382.5 M727.8,381.2 C728,383.8 729.3,385.2 731.3,385.2 C733.5,385.2 735,383.8 735.3,382"/>
<!-- front vertical lines -->
<path class="l c" d="M696.9,295 L700.3,374 M742.5,301.7 L747,381.2"/>
<path class="t" style="stroke:#555" d="M693.4,298.5 L697.3,373.7"/>
<!-- front top edge -->
<path class="l c" d="M650.8,288.3 C653,292.5 657,295 661.7,295.8 C667,296.5 673,296.5 678.3,295.8 C684,294.5 689,292.5 693.3,291.7 C696,291.2 699,291 701.7,291.3 C708,292.3 715,293.8 721.7,295 C729,296.5 737,297.8 743.3,297.5 C746.5,297 749.5,295.5 751.7,293.3 C754.5,290.5 757,287.5 760,285 C763,282.5 766,280.5 769.2,279.2 L774.2,273.3"/>
<path class="l c" d="M754.2,277.5 L769.2,279.2"/>
<!-- connector socket -->
<path class="w c" d="M709.2,266 L710,280 C711,282.5 713,284 715,284.2 L723.3,284.5 L745,285 C749,284 752,281.5 753.3,278.3 L753.3,267 Z"/>
<path class="w c" d="M705.8,262.5 C706,259.5 707,258 708.3,256.7 C711,254 714.5,252.6 718.3,252 C725,251.5 732,252.2 738.3,253.3 C743.5,254.2 749,255.5 753.3,257.5 C755.5,258.8 756.5,260.5 756.3,262.5 C755.8,265 754,267 751.7,268.3 C747.5,270 743,270.8 738.3,270.8 C731.5,270.8 724.5,270.2 718.3,269.2 C714.5,268.8 711,268 708.3,266.7 C706.5,265.5 705.8,264 705.8,262.5 Z"/>
<path class="l c" d="M711.7,261.7 C712.5,259 715,257.3 718.3,256.7 C725,256.3 732,256.9 738.3,258 C742,258.6 745.5,259.3 748.3,260.3 C749.5,261 749.8,262.3 749.2,263.3 C748,264.8 746,265.8 743.3,266.3 C736.5,266.8 729.5,266.5 723.3,265.8 C719.5,265.6 716,265.3 713.3,264.7 C712,264 711.5,262.8 711.7,261.7 Z"/>
<path class="l c" style="stroke-width:2.2" d="M716.5,263.5 L723,258.5 M721.5,264.3 L729,258.7 M727.5,264.8 L734.5,259.3 M733,265 L740,260 M738.5,265 L745,260.8"/>
<!-- HT tower -->
<path class="w c" d="M675,258.3 L675.8,270 C678,272.8 682,274.2 685.8,274.2 C690,274 693.5,272.5 695.8,270 L695.8,258.3 Z"/>
<ellipse class="w c" cx="685" cy="252.5" rx="15" ry="7"/>
<ellipse class="l c" cx="684.6" cy="252.5" rx="8.8" ry="4.2"/>
<!-- wire to terminal -->
<path class="w c" d="M722.5,291 L723.3,285 C724,282.5 726,280.8 728.3,280 C731.5,279.2 735,279.1 738.3,279.2 L826,284.6 L826,288 L738.3,282.6 C736,282.5 733.5,282.6 731.7,283 C729.5,283.8 728,285 727.5,286.7 L726.7,292 C725.5,293.3 723.5,293 722.5,291 Z" style="stroke-width:1.3"/>
<path class="w c" d="M825.5,281 L841,280 L841.5,292.5 L826,293.7 Z"/>
<path class="l c" d="M825.5,281 L828,279 L843,278 L841,280 M843,278 L843.5,290.5 L841.5,292.5" style="stroke-width:1.2"/>
<circle class="l c" cx="833.5" cy="287.3" r="1.8" style="stroke-width:1.3"/>
<text x="703" y="404.5">3</text>
<!-- clip 12 -->
<path class="w c" style="stroke-width:1.4" d="M799.7,341.8 L817.7,335 L823.1,335.5 L830.3,357.2 L825.6,358.9 L808.9,365.2 Z"/>
<path class="l c" style="stroke-width:1.3" d="M817.7,335 L825.6,358.9"/>
<circle class="l c" cx="813.9" cy="351.4" r="4.4" style="stroke-width:1.1"/>
<path class="t" d="M810.6,352.2 L816.9,350.9"/>
<text x="819.4" y="380.5">12</text>
<!-- 65_bolt.svg -->
<!-- bolt 11 -->
<path class="w" d="M597.5,418.7 L640,407.5 C641.5,409.5 641.8,412 641.2,414.4 L598.7,427.5 Z"/>
<path class="t" style="stroke-width:1.3" d="M608,416 L609.5,424 M610.5,415.3 L612,423.3 M613,414.6 L614.5,422.5 M615.5,414 L617,421.7 M618,413.3 L619.5,421 M620.5,412.6 L622,420.2 M623,412 L624.5,419.5 M625.5,411.3 L627,418.7 M628,410.7 L629.5,418 M630.5,410 L632,417.2 M633,409.4 L634.5,416.4 M635.5,408.7 L637,415.7 M638,408 L639.5,415"/>
<path class="w" d="M590,416.2 L595,416.9 L598.1,422.5 L596.9,428.7 L593.1,433.7 L588.7,434.4 Z"/>
<path class="w" d="M580.2,424.4 L583.7,418.1 L590,416.2 L594.4,421.2 L593.1,428.7 L588.7,434.4 L583.1,431.9 Z"/>
<path class="t" d="M594.4,421.2 L598.1,422.5 M593.1,428.7 L596.9,428.7"/>
<text x="602.2" y="447.5">11</text>
<!-- washer 13 -->
<ellipse class="w" cx="659.3" cy="405.8" rx="9.8" ry="12.7" transform="rotate(-14 659.3 405.8)"/>
<ellipse class="w" cx="658.3" cy="405.6" rx="9.8" ry="12.7" transform="rotate(-14 658.3 405.6)"/>
<ellipse class="l" cx="657.7" cy="405.2" rx="5.4" ry="6.8" transform="rotate(-14 657.7 405.2)"/>
<path class="t" d="M656.5,399.5 C654,402 654,408 657.5,411"/>
<text x="661.9" y="437.5">13</text>
<!-- 70_battery.svg -->
<path class="w" d="M348.3,492 L348.3,594.3 L404,647.7 L570,612.7 L570,511 L404,538 Z"/>
<path class="l" style="stroke-width:1.5" d="M404.0,538.8 L404.0,647.7 M437.3,533.5 L437.3,640.7 M440.0,533.1 L440.0,640.1 M466.0,529.0 L466.0,634.6 M468.3,528.6 L468.3,634.1 M492.3,524.8 L492.3,629.1 M494.2,524.5 L494.2,628.7 M520.0,520.4 L520.0,623.2 M522.3,520.1 L522.3,622.8 M546.0,516.3 L546.0,617.8 M547.6,516.1 L547.6,617.4 "/>
<path class="l" style="stroke-width:1.5" d="M361.7,504.3 L361.7,607.2 M388.3,524.7 L388.3,632.7 M390.7,526.5 L390.7,635.0 "/>
<path class="t" style="stroke-width:1.2" d="M407.3,568.7 L436.7,564.3 M441.7,562.7 L463.3,560.0 M470.0,557.7 L490.0,555.0 M495.7,553.3 L516.7,550.0 M524.3,548.7 L543.3,546.0 M548.3,544.3 L567.3,542.0 M348.3,526.0 L361.7,534.3 M373.3,542.7 L388.3,552.7 M390.7,556.0 L404.0,567.7 "/>
<path class="l" style="stroke-width:1.3" d="M362.5,508.3 L362.5,542.5 C367,541.5 370,540 371.7,538.3 C373.5,535 374.2,530 374.2,525 L375,509.2"/>
<path class="w" style="stroke:none" d="M348.3,488.3 L347.5,494.2 L356.7,498.3 L358.3,502.5 L360.8,507.5 L374.2,508.3 L375,511.7 L390,529.5 L405,538.6 L570,512.5 L576.7,510.5 L576.7,502.5 L575,498.3 L574.2,490.8 L560.8,482 L552.5,482.5 L500,462 L365.8,484.7 Z"/>
<path class="l" style="stroke-width:1.5" d="M365.8,484.7 L348.3,488.3 L347.5,494.2 L356.7,498.3 L358.3,502.5 L382.5,500 M358.3,502.5 L360.8,507.5 L374.2,508.3 L380.8,507 M375,511.7 L405.8,529.2 L576.7,502.5 L576.7,510 L570,512.5 L405,538.6 L390,529.5 M552.5,482.5 L560.8,482 L574.2,490.8 L575,498.3 L576.7,502.5 M405.8,529.2 L405,538.6"/>
<path class="l" style="stroke-width:1.3" d="M406.7,526.7 L575,500 M406.7,516.7 L574.2,491.7 M406.7,526.7 L382.5,510.8 M395,503.3 L406.7,516.7"/>
<path class="l" style="stroke-width:1.3" d="M382.5,500 L384.2,510.8 L390,508 L393.3,510.8 L395,503.3"/>
<path class="w" style="stroke:none" d="M375.8,466.7 L488.3,454.7 L500,462.5 L525.8,468.3 L536.7,467 L552.5,476.7 L552.5,482.5 L551.7,483.7 L398,505.8 L396.7,500.5 L398.3,485 L376.7,472.5 Z"/>
<path class="l" style="stroke-width:1.5" d="M500,462.5 L488.3,454.7 L375.8,466.7 L376.7,472.5 L398.3,485 M375.8,466.7 L398.3,484.3 M525.8,468.3 L536.7,467 L552.5,476.7 L552.5,482.5 L551.7,483.7 L398,505.8 M396.7,500.5 L552.5,478.3 M398.3,485 L396.7,486.7 L375.8,489.7 L374.2,492.5 L358.3,494.7"/>
<path class="w" style="stroke-width:1.3" d="M396.7,500.3 L411.7,498.1 L411.7,502.4 L396.7,504.6 Z"/>
<path class="t" d="M397.7,502.7 L410.7,500.4"/>
<path class="w" style="stroke-width:1.3" d="M424.0,496.5 L438.3,494.4 L438.3,498.7 L424.0,500.8 Z"/>
<path class="t" d="M425.0,498.9 L437.3,496.8"/>
<path class="w" style="stroke-width:1.3" d="M452.3,492.6 L466.7,490.4 L466.7,494.7 L452.3,496.9 Z"/>
<path class="t" d="M453.3,495.0 L465.7,492.8"/>
<path class="w" style="stroke-width:1.3" d="M480.8,488.4 L495.0,486.3 L495.0,490.6 L480.8,492.7 Z"/>
<path class="t" d="M481.8,490.8 L494.0,488.7"/>
<path class="w" style="stroke-width:1.3" d="M508.8,484.4 L523.3,482.2 L523.3,486.5 L508.8,488.7 Z"/>
<path class="t" d="M509.8,486.8 L522.3,484.6"/>
<path class="w" style="stroke-width:1.3" d="M536.0,480.3 L550.0,478.2 L550.0,482.5 L536.0,484.6 Z"/>
<path class="t" d="M537.0,482.7 L549.0,480.6"/>
<path class="w" style="stroke-width:1.5" d="M365.8,475.8 L372.5,474.2 L380,477 L390,483 L390,486.7 L375.8,489.2 L367.5,485 Z"/>
<path class="l" style="stroke-width:1.3" d="M372.5,474.2 L373.3,480.8 L367.5,485 M373.3,480.8 L380.8,484.2 L390,483 M380.8,484.2 L381,488.3"/>
<circle class="t" cx="377.5" cy="479.8" r="1.6"/>
<path class="w" style="stroke-width:1.5" d="M500,460 L510.8,455.8 L525.8,463.3 L525.8,468.3 L515,471.7 L500,461.7 Z"/>
<path class="l" style="stroke-width:1.3" d="M510.8,455.8 L503.3,459.2 L515,466.7 L525.8,463.3 M515,466.7 L515,471.7"/>
<circle class="t" cx="511.5" cy="460.8" r="1.8"/>
<path class="l" style="stroke-width:2.4" d="M396,473.5 L406,478 M403.5,471.5 L399,480"/>
<path class="l" style="stroke-width:2.6;stroke-linecap:butt" d="M483.3,466.3 L495.8,465"/>
<text x="356.6" y="620.6" style="font-size:13.5px">15</text>
<!-- 80_wire.svg -->
<!-- clip 16 -->
<path class="l" style="stroke-width:3.3" d="M273.6,392.9 L284.5,406"/>
<g transform="translate(293.1,406.8) rotate(-22)">
<ellipse cx="0" cy="0" rx="10.9" ry="15" fill="#2a2a2a"/>
<ellipse cx="1.8" cy="-1" rx="7.9" ry="12" fill="#fff"/>
<path class="l" style="stroke-width:1.1" d="M-0.5,-12.4 A6.6,12.4 0 0 1 -0.5,11.4"/>
</g>
<text x="288.1" y="434.9">16</text>
<!-- wire 17 -->
<path class="l" style="stroke-width:5.2;stroke:#2a2a2a" d="M763.5,451.8 C752,461 742,469 733.3,476.2 C724,483.5 715,490 706.7,496.5 C700,501.5 695,505.5 691.7,509.5 C688.5,513 688,516.5 690,519 C692,521.5 695,522.3 700,522.8 C706,523.5 711,523.8 716.7,524.3 C723,524.8 729,525 733.3,525.9 C738,526.8 741.5,528.5 743.3,531.7 C745,534.5 745,537.5 744,540.5 C742.5,546 740,550.5 736.7,555 C731,563 724,570.5 716.7,578.3 C710,585 703.5,591 696.7,596.7 C690.5,601.5 684,605 677.8,607.6"/>
<path class="l" style="stroke-width:2.3;stroke:#fff" d="M763.5,451.8 C752,461 742,469 733.3,476.2 C724,483.5 715,490 706.7,496.5 C700,501.5 695,505.5 691.7,509.5 C688.5,513 688,516.5 690,519 C692,521.5 695,522.3 700,522.8 C706,523.5 711,523.8 716.7,524.3 C723,524.8 729,525 733.3,525.9 C738,526.8 741.5,528.5 743.3,531.7 C745,534.5 745,537.5 744,540.5 C742.5,546 740,550.5 736.7,555 C731,563 724,570.5 716.7,578.3 C710,585 703.5,591 696.7,596.7 C690.5,601.5 684,605 677.8,607.6"/>
<path class="l" style="stroke-width:3.6" d="M763.5,451.8 L777,439.5 M677.8,607.6 C670,613 662,619 656,624"/>
<path class="l" style="stroke-width:1.1;stroke:#fff" d="M763.5,451.8 L777,439.5 M677.8,607.6 C670,613 662,619 656,624"/>
<path class="l" style="stroke-width:1.3" d="M762,450 L765,453.8 M676.2,605.6 L679.5,609.6"/>
<!-- top terminal -->
<path class="w" style="stroke-width:1.4" d="M776,437.2 L782.7,433 L784.4,434.7 L778.1,441.8 Z"/>
<path class="w" style="stroke-width:1.5" d="M783.5,430.9 L791,424.2 C793,423 795.2,424 796.2,426 C796.8,427.3 796.5,428.3 795.5,429.3 L787.7,435.1 C786,436 784.3,435.3 783.5,434 C782.8,433 782.8,431.8 783.5,430.9 Z"/>
<!-- bottom terminal 18 -->
<ellipse class="w" cx="651.4" cy="628.5" rx="5" ry="3" transform="rotate(-30 651.4 628.5)" style="stroke-width:1.5"/>
<path class="l" style="stroke-width:1.3" d="M647,631 L642.5,633.5"/>
<ellipse class="l" cx="639" cy="634.8" rx="3.6" ry="2.2" transform="rotate(-30 639 634.8)" style="stroke-width:2"/>
<text x="706.7" y="567.7">17</text>
<text x="638.8" y="623.9">18</text>
</svg>
</body></html>
